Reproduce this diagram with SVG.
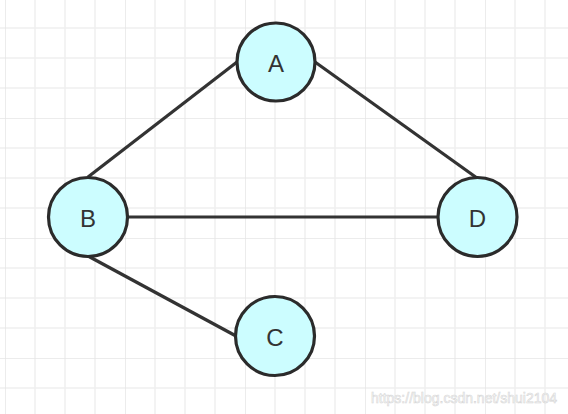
<svg xmlns="http://www.w3.org/2000/svg" width="568" height="414" viewBox="0 0 568 414">
<defs>
<style>
.minor{stroke:#f0f0f0;stroke-width:1.5}
.major{stroke:#e6e6e6;stroke-width:1.5}
.node circle{fill:#ccfdff;stroke:#2b2b2b;stroke-width:3.2}
.node text{font-family:"Liberation Sans",Arial,sans-serif;font-size:24px;fill:#333;text-anchor:middle;dominant-baseline:central}
.edge{stroke:#333;stroke-width:3.2;fill:none}
.wm{font-family:"Liberation Sans",Arial,sans-serif;font-size:14px;fill:#fff;stroke:#d6d6d6;stroke-width:0.6}
</style>
<pattern id="grid" x="5" y="-2" width="120" height="120" patternUnits="userSpaceOnUse">
<path class="minor" d="M30 0V120M60 0V120M90 0V120M0 30H120M0 60H120M0 90H120"/>
<path class="major" d="M0 0V120M0 0H120"/>
</pattern>
</defs>
<rect width="568" height="414" fill="#fff"/>
<rect x="-2" y="-2" width="572" height="418" fill="url(#grid)"/>
<g id="connectors">
<line class="edge" x1="237" y1="62" x2="88" y2="177"/>
<line class="edge" x1="315" y1="62" x2="477" y2="178"/>
<line class="edge" x1="127" y1="217" x2="438" y2="217"/>
<line class="edge" x1="88" y1="256" x2="236" y2="336"/>
</g>
<g id="node-A" class="node"><circle cx="276" cy="62" r="39"/><text x="276" y="63">A</text></g>
<g id="node-B" class="node"><circle cx="88" cy="217" r="39.5"/><text x="88" y="218">B</text></g>
<g id="node-D" class="node"><circle cx="477.5" cy="217" r="39.5"/><text x="477.5" y="218">D</text></g>
<g id="node-C" class="node"><circle cx="275" cy="336" r="39.5"/><text x="275" y="337">C</text></g>
<text class="wm" x="371" y="403">https://blog.csdn.net/shui2104</text>
</svg>
